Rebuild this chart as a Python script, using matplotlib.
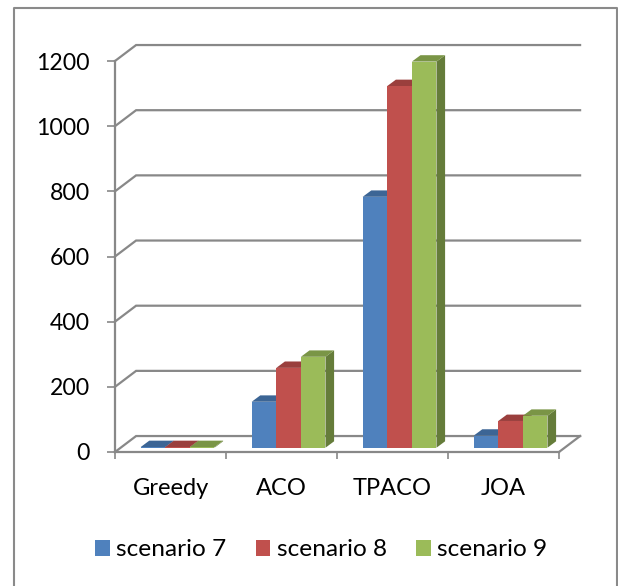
import matplotlib
matplotlib.use('Agg')
import matplotlib.pyplot as plt
from matplotlib.lines import Line2D
from matplotlib.patches import Patch, Polygon

categories = ['Greedy', 'ACO', 'TPACO', 'JOA']
scenario_7 = [2, 141, 770, 37]
scenario_8 = [2, 245, 1110, 82]
scenario_9 = [2, 279, 1185, 98]
y_ticks = [0, 200, 400, 600, 800, 1000, 1200]

series_names = ['scenario 7', 'scenario 8', 'scenario 9']
series_values = [scenario_7, scenario_8, scenario_9]
front_colors = ['#4F81BD', '#C0504D', '#9BBB59']
top_colors = ['#3C6595', '#9A3F3D', '#7A9546']
side_colors = ['#385D8A', '#7E3432', '#657C3A']

GRID = '#888888'
W, H = 618, 586

# 3d look: offsets of the back wall and of the bars, in data units
wall_dx, wall_dy = 0.19, 49
bar_dx, bar_dy = 0.0775, 19.6
base = 13.2
bar_w = 0.2216
first_bar = 0.2315

plt.rcParams['font.family'] = ['Lato', 'DejaVu Sans']

fig = plt.figure(figsize=(W / 100, H / 100), dpi=100)
ax = fig.add_axes([115 / W, (H - 452) / H, 444 / W, 391 / H])
ax.set_xlim(0, 4)
ax.set_ylim(0, 1200)

# walls and floor
for v in y_ticks:
    ax.plot([0, wall_dx, 4 + wall_dx], [v, v + wall_dy, v + wall_dy],
            color=GRID, lw=1.6, clip_on=False, zorder=1, solid_joinstyle='miter')
ax.plot([4, 4 + wall_dx], [0, wall_dy], color=GRID, lw=1.6, clip_on=False, zorder=1)

for j in range(3):
    for i, v in enumerate(series_values[j]):
        x0 = i + first_bar + j * bar_w
        x1 = x0 + bar_w
        y0 = base
        y1 = base + v
        side = Polygon([(x1, y0), (x1 + bar_dx, y0 + bar_dy), (x1 + bar_dx, y1 + bar_dy), (x1, y1)],
                       facecolor=side_colors[j], edgecolor='none', clip_on=False, zorder=3 + i + j * 0.1)
        top = Polygon([(x0, y1), (x0 + bar_dx, y1 + bar_dy), (x1 + bar_dx, y1 + bar_dy), (x1, y1)],
                      facecolor=top_colors[j], edgecolor='none', clip_on=False, zorder=3 + i + j * 0.1)
        ax.add_patch(side)
        ax.add_patch(top)
        ax.bar(x0, v, width=bar_w, bottom=base, align='edge', color=front_colors[j],
               clip_on=False, zorder=3.05 + i + j * 0.1)

for s in ['top', 'right']:
    ax.spines[s].set_visible(False)
for s in ['left', 'bottom']:
    ax.spines[s].set_color(GRID)
    ax.spines[s].set_linewidth(1.6)

ax.set_yticks(y_ticks)
ax.tick_params(axis='y', length=6, width=1.2, color=GRID, pad=12, labelsize=16.6, labelcolor='black')
ax.set_xticks([0, 1, 2, 3, 4])
ax.set_xticklabels([])
ax.set_xticks([0.5, 1.5, 2.5, 3.5], minor=True)
ax.set_xticklabels(categories, minor=True)
ax.tick_params(axis='x', which='major', length=5, width=1.2, color=GRID)
ax.tick_params(axis='x', which='minor', length=0, pad=18.5, labelsize=17, labelcolor='black')

handles = [Patch(facecolor=c, label=n) for c, n in zip(front_colors, series_names)]
fig.legend(handles=handles, loc='center', bbox_to_anchor=(321 / W, (H - 550) / H), ncol=3,
           frameon=False, fontsize=17.6, handlelength=0.61, handleheight=0.61,
           handletextpad=0.25, columnspacing=1.2, borderpad=0, labelcolor='black')

# outer frame, open at the bottom
frame_x = [14 / W, 14 / W, 617 / W, 617 / W]
frame_y = [0, (H - 8) / H, (H - 8) / H, 0]
fig.add_artist(Line2D(frame_x, frame_y, color='#8A8A8A', lw=1.5, transform=fig.transFigure))

fig.savefig('out.png', dpi=100)
